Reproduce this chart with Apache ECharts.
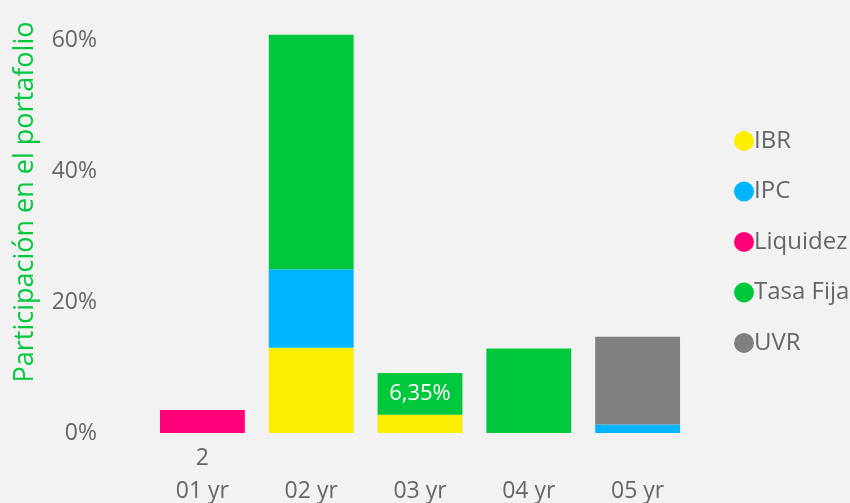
<!DOCTYPE html>
<html>
<head>
<meta charset="utf-8">
<script src="https://cdn.jsdelivr.net/npm/echarts@6/dist/echarts.min.js"></script>
<style>
html,body{margin:0;padding:0;background:#f2f2f2;}
#chart{width:850px;height:503px;}
</style>
</head>
<body>
<div id="chart"></div>
<script>
const categories = ['01 yr', '02 yr', '03 yr', '04 yr', '05 yr'];
const extraLabels = ['2', '', '', '', ''];
const seriesNames = ['IBR', 'IPC', 'Liquidez', 'Tasa Fija', 'UVR'];
const ibr = [null, 13.0, 2.8, null, null];
const ipc = [null, 12.0, null, null, 1.3];
const liquidez = [3.5, null, null, null, null];
const tasaFija = [null, 35.8, 6.35, 12.9, null];
const uvr = [null, null, null, null, 13.4];
const yTicks = [0, 20, 40, 60];
const colors = ['#FCEE00', '#00B4FF', '#FF0078', '#00C83C', '#808080'];
const font = '"Open Sans", "Noto Sans", sans-serif';

const values = [ibr, ipc, liquidez, tasaFija, uvr];
const chart = echarts.init(document.getElementById('chart'));
chart.setOption({
  backgroundColor: '#f2f2f2',
  animation: false,
  grid: { left: 148, right: 158, top: 27, bottom: 70, containLabel: false, outerBoundsMode: 'none' },
  legend: {
    orient: 'vertical',
    left: 729,
    top: 124,
    icon: 'circle',
    itemWidth: 20,
    itemHeight: 20,
    itemGap: 26.5,
    textStyle: { color: '#666', fontSize: 24, fontFamily: font, padding: [0, 0, 0, -5] },
    data: seriesNames
  },
  graphic: [{
    type: 'text',
    x: 25, y: 202,
    rotation: Math.PI / 2,
    style: {
      text: 'Participación en el portafolio',
      fill: '#00C83C',
      fontSize: 27,
      fontFamily: font,
      align: 'center',
      verticalAlign: 'middle'
    }
  }],
  xAxis: {
    type: 'category',
    data: categories,
    axisLine: { show: false },
    axisTick: { show: false },
    axisLabel: {
      margin: 9,
      color: '#666',
      fontSize: 23,
      fontFamily: font,
      lineHeight: 33,
      formatter: (v, i) => extraLabels[i] + '\n' + v
    }
  },
  yAxis: {
    type: 'value',
    min: 0,
    max: 62,
    interval: 20,
    splitLine: { show: false },
    axisLine: { show: false },
    axisTick: { show: false },
    axisLabel: {
      showMaxLabel: false,
      margin: 51,
      color: '#666',
      fontSize: 23,
      fontFamily: font,
      formatter: v => (yTicks.includes(v) ? v + '%' : '')
    }
  },
  series: seriesNames.map((name, k) => ({
    name,
    type: 'bar',
    stack: 'total',
    barCategoryGap: '22%',
    itemStyle: { color: colors[k] },
    data: values[k],
    label: {
      show: name === 'Tasa Fija',
      position: 'inside',
      color: '#fff',
      fontSize: 22,
      fontFamily: font,
      formatter: p => (p.dataIndex === 2 ? String(p.value).replace('.', ',') + '%' : '')
    }
  }))
});
</script>
</body>
</html>
